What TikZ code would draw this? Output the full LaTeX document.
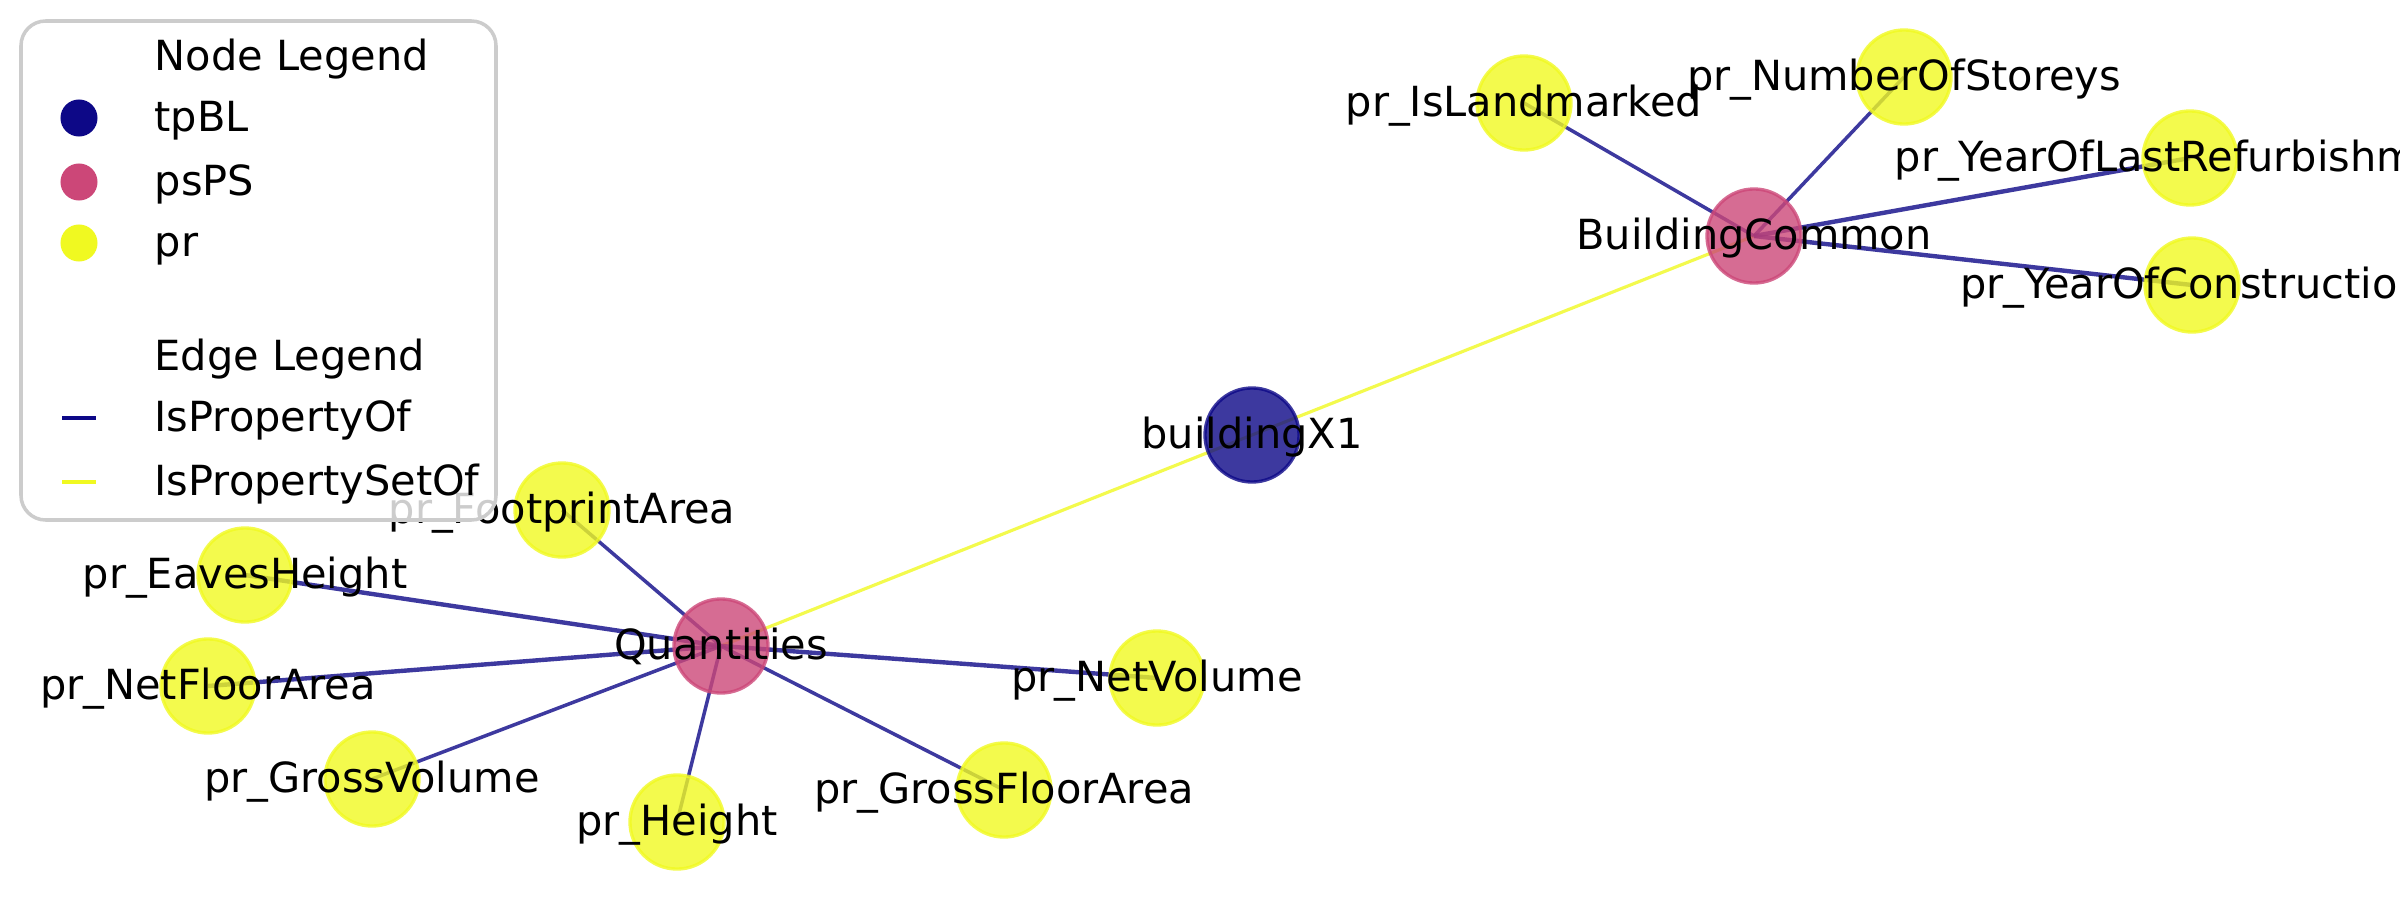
\documentclass[tikz,border=0pt]{standalone}
\usepackage{fontspec}
\setmainfont{DejaVu Sans}
\usetikzlibrary{backgrounds}
\definecolor{cBL}{HTML}{0D0887}
\definecolor{cPS}{HTML}{CC4778}
\definecolor{cPR}{HTML}{F0F921}
\definecolor{cFrame}{HTML}{CCCCCC}
\begin{document}
\begin{tikzpicture}[x=0.01cm,y=-0.01cm,
  vert/.style={circle, minimum size=0.94cm, inner sep=0pt, line width=0.95pt, opacity=0.8},
  tpbl/.style={vert, fill=cBL, draw=cBL},
  psps/.style={vert, fill=cPS, draw=cPS},
  prn/.style={vert, fill=cPR, draw=cPR},
  txt/.style={font=\fontsize{11.8pt}{14pt}\selectfont, inner sep=0pt, text height=0.76em, text depth=0.24em, yshift=-1.2pt},
  lbl/.style={txt, anchor=center},
  propof/.style={draw=cBL, opacity=0.8},
  thick1/.style={line width=1.25pt},
  thin1/.style={line width=1.0pt},
  setof/.style={draw=cPR, opacity=0.8, line width=0.9pt},
  legdot/.style={circle, minimum size=0.37cm, inner sep=0pt},
  legline/.style={line width=1.2pt},
  legtxt/.style={txt, anchor=west}
]
\useasboundingbox (0,0) rectangle (2400,900);
\clip (0,0) rectangle (2400,900);
% vertices
\node[tpbl] (bx) at (1252,435) {};
\node[psps] (bc) at (1754,236) {};
\node[psps] (qu) at (721,646) {};
\node[prn] (lm) at (1524,103) {};
\node[prn] (ns) at (1904,77) {};
\node[prn] (yr) at (2190,158) {};
\node[prn] (yc) at (2192,285) {};
\node[prn] (fa) at (562,510) {};
\node[prn] (eh) at (245,575) {};
\node[prn] (nf) at (208,686) {};
\node[prn] (gv) at (372,779) {};
\node[prn] (he) at (677,822) {};
\node[prn] (gf) at (1004,790) {};
\node[prn] (nv) at (1157,678) {};
% edges
\begin{pgfonlayer}{background}
\draw[setof] (bx.center) -- (bc.center);
\draw[setof] (bx.center) -- (qu.center);
\draw[propof,thin1] (bc.center) -- (lm.center);
\draw[propof,thin1] (bc.center) -- (ns.center);
\draw[propof,thick1] (bc.center) -- (yr.center);
\draw[propof,thick1] (bc.center) -- (yc.center);
\draw[propof,thin1] (qu.center) -- (fa.center);
\draw[propof,thick1] (qu.center) -- (eh.center);
\draw[propof,thick1] (qu.center) -- (nf.center);
\draw[propof,thin1] (qu.center) -- (gv.center);
\draw[propof,thin1] (qu.center) -- (he.center);
\draw[propof,thin1] (qu.center) -- (gf.center);
\draw[propof,thick1] (qu.center) -- (nv.center);
\end{pgfonlayer}
% labels
\node[lbl] (l-bx) at (bx) {buildingX1};
\node[lbl] (l-bc) at (bc) {BuildingCommon};
\node[lbl] (l-qu) at (qu) {Quantities};
\node[lbl] (l-lm) at (lm) {pr\_IsLandmarked};
\node[lbl] (l-ns) at (ns) {pr\_NumberOfStoreys};
\node[lbl] (l-yr) at (yr) {pr\_YearOfLastRefurbishment};
\node[lbl] (l-yc) at (yc) {pr\_YearOfConstruction};
\node[lbl] (l-fa) at (fa) {pr\_FootprintArea};
\node[lbl] (l-eh) at (eh) {pr\_EavesHeight};
\node[lbl] (l-nf) at (nf) {pr\_NetFloorArea};
\node[lbl] (l-gv) at (gv) {pr\_GrossVolume};
\node[lbl] (l-he) at (he) {pr\_Height};
\node[lbl] (l-gf) at (gf) {pr\_GrossFloorArea};
\node[lbl] (l-nv) at (nv) {pr\_NetVolume};
% legend
\draw[draw=cFrame, line width=1pt, fill=white, fill opacity=0.8, rounded corners=7] (21,21) rectangle (496,520);
\node[legtxt] (lg-nh) at (154,57) {Node Legend};
\node[legdot, fill=cBL] (lg-d1) at (79,118) {};
\node[legtxt] (lg-t1) at (154,118) {tpBL};
\node[legdot, fill=cPS] (lg-d2) at (79,182) {};
\node[legtxt] (lg-t2) at (154,182) {psPS};
\node[legdot, fill=cPR] (lg-d3) at (79,243) {};
\node[legtxt] (lg-t3) at (154,243) {pr};
\node[legtxt] (lg-eh) at (154,357) {Edge Legend};
\coordinate (lg-a1) at (62,418);
\coordinate (lg-b1) at (96,418);
\draw[legline, cBL] (lg-a1) -- (lg-b1);
\node[legtxt] (lg-t4) at (154,418) {IsPropertyOf};
\coordinate (lg-a2) at (62,482);
\coordinate (lg-b2) at (96,482);
\draw[legline, cPR] (lg-a2) -- (lg-b2);
\node[legtxt] (lg-t5) at (154,482) {IsPropertySetOf};
\end{tikzpicture}
\end{document}
